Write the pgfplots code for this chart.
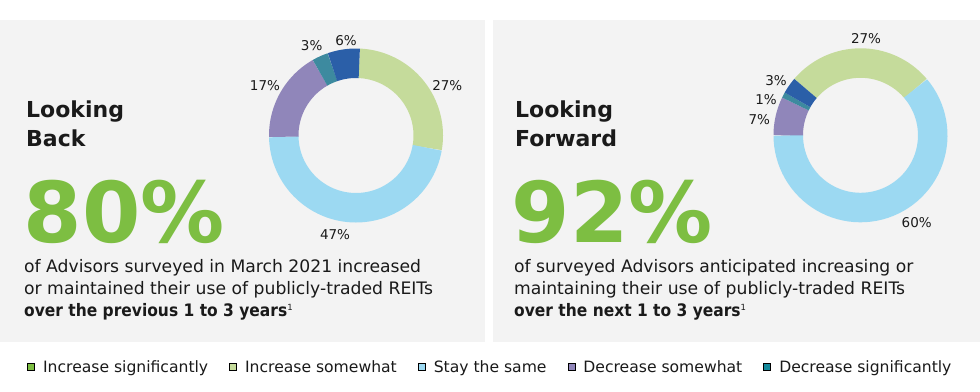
\documentclass[border=0pt]{standalone}
\usepackage{pgfplots}
\pgfplotsset{compat=1.18}
\usepackage{fontspec}
\setmainfont{DejaVu Sans}
\usepackage{graphicx}
\definecolor{bg}{HTML}{F3F3F3}
\definecolor{brgreen}{HTML}{7DBE42}
\definecolor{lgreen}{HTML}{C5DB9B}
\definecolor{lblue}{HTML}{9CD9F2}
\definecolor{cpurple}{HTML}{9086BA}
\definecolor{cteal}{HTML}{3D8A9F}
\definecolor{lteal}{HTML}{13899B}
\definecolor{dblue}{HTML}{2B5FA8}
\definecolor{txt}{HTML}{1A1A1A}
% slice: cx, cy, start angle offset, degrees per percent, from %, to %, colour
\newcommand{\slice}[7]{%
  \addplot[draw=#7, line width=29.5pt, samples=60, domain=#5:#6, variable=\t, forget plot]
    ({#1+72.25*sin(#3+#4*\t)}, {#2-72.25*cos(#3+#4*\t)});}
\begin{document}
\begin{tikzpicture}
\begin{axis}[
  x=1pt, y=1pt, xmin=0, xmax=980, ymin=0, ymax=391, y dir=reverse,
  hide axis, clip=false,
  legend image code/.code={\fill[#1] (0pt,-3.5pt) rectangle (7pt,3.5pt); \path (13pt,0pt);},
  legend style={at={(axis cs:24,367)}, anchor=west, draw=none, fill=none,
    legend columns=-1, font=\fontsize{15.6}{18}\selectfont, text=txt,
    /tikz/every even column/.append style={column sep=18.5pt},
    nodes={inner sep=2.5pt}},
]
\fill[white] (axis cs:0,0) rectangle (axis cs:980,391);
\fill[bg] (axis cs:0,20) rectangle (axis cs:485,342);
\fill[bg] (axis cs:493,20) rectangle (axis cs:980,342);

% Looking back: Increase somewhat 27, Stay the same 47, Decrease somewhat 17, Decrease significantly 3, other 6
\slice{356}{135.5}{2.6}{3.6}{0}{27}{lgreen}
\slice{356}{135.5}{2.6}{3.6}{27}{74}{lblue}
\slice{356}{135.5}{2.6}{3.6}{74}{91}{cpurple}
\slice{356}{135.5}{2.6}{3.6}{91}{94}{cteal}
\slice{356}{135.5}{2.6}{3.6}{94}{100}{dblue}

% Looking forward: Increase somewhat 27, Stay the same 60, Decrease somewhat 7, Decrease significantly 1, other 3
\slice{860.5}{135.3}{-49.6}{3.6735}{0}{27}{lgreen}
\slice{860.5}{135.3}{-49.6}{3.6735}{27}{87}{lblue}
\slice{860.5}{135.3}{-49.6}{3.6735}{87}{94}{cpurple}
\slice{860.5}{135.3}{-49.6}{3.6735}{94}{95}{cteal}
\slice{860.5}{135.3}{-49.6}{3.6735}{95}{98}{dblue}

% donut labels
\begin{scope}[every node/.style={font=\fontsize{13.5}{16}\selectfont, text=txt, inner sep=0}]
\node at (axis cs:311.7,46) {3\%};
\node at (axis cs:346,40.7) {6\%};
\node at (axis cs:447.3,85.7) {27\%};
\node at (axis cs:265,85.7) {17\%};
\node at (axis cs:335,235) {47\%};
\node at (axis cs:866,39) {27\%};
\node at (axis cs:776,81) {3\%};
\node at (axis cs:766,99.3) {1\%};
\node at (axis cs:759.3,120) {7\%};
\node at (axis cs:916.7,222.3) {60\%};
\end{scope}

% panel text
\begin{scope}[every node/.style={anchor=base west, inner sep=0, text=txt}]
\node[font=\bfseries\fontsize{22}{26}\selectfont] at (axis cs:26,117) {Looking};
\node[font=\bfseries\fontsize{22}{26}\selectfont] at (axis cs:26,146.5) {Back};
\node[font=\bfseries\fontsize{84}{84}\selectfont, text=brgreen] at (axis cs:23.5,242.5) {80\%};
\node[font=\fontsize{17.2}{22}\selectfont] at (axis cs:24,272.7) {of Advisors surveyed in March 2021 increased};
\node[font=\fontsize{17.2}{22}\selectfont] at (axis cs:24,294.5) {or maintained their use of publicly-traded REITs};
\node[font=\fontsize{17.2}{22}\selectfont] at (axis cs:24,316.5) {\scalebox{0.9}[1]{\bfseries over the previous 1 to 3 years}\raisebox{6.5pt}{\fontsize{8.5}{9}\selectfont 1}};

\node[font=\bfseries\fontsize{22}{26}\selectfont] at (axis cs:515,117) {Looking};
\node[font=\bfseries\fontsize{22}{26}\selectfont] at (axis cs:515,146.5) {Forward};
\node[font=\bfseries\fontsize{84}{84}\selectfont, text=brgreen] at (axis cs:511.5,242.5) {92\%};
\node[font=\fontsize{17.2}{22}\selectfont] at (axis cs:514,272.7) {of surveyed Advisors anticipated increasing or};
\node[font=\fontsize{17.2}{22}\selectfont] at (axis cs:514,294.5) {maintaining their use of publicly-traded REITs};
\node[font=\fontsize{17.2}{22}\selectfont] at (axis cs:514,316.5) {\scalebox{0.9}[1]{\bfseries over the next 1 to 3 years}\raisebox{6.5pt}{\fontsize{8.5}{9}\selectfont 1}};
\end{scope}

\addlegendimage{fill=brgreen}
\addlegendentry{Increase significantly}
\addlegendimage{fill=lgreen}
\addlegendentry{Increase somewhat}
\addlegendimage{fill=lblue}
\addlegendentry{Stay the same}
\addlegendimage{fill=cpurple}
\addlegendentry{Decrease somewhat}
\addlegendimage{fill=lteal}
\addlegendentry{Decrease significantly}
\end{axis}
\end{tikzpicture}
\end{document}
